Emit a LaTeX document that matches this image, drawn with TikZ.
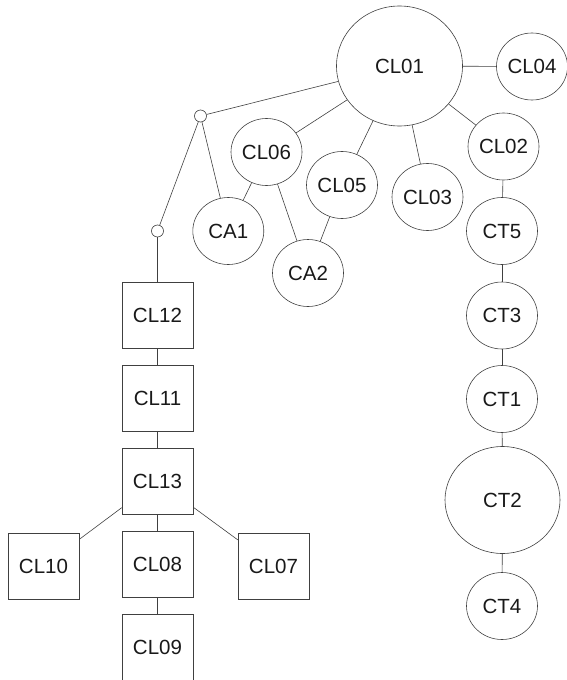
\documentclass[tikz,border=0pt]{standalone}
\usepackage{fontspec}
\setmainfont{Liberation Sans}
\usetikzlibrary{shapes.geometric}
\begin{document}
\begin{tikzpicture}[x=1pt,y=-1pt,
  every node/.style={font=\fontsize{20.5}{24}\selectfont, text=black!90},
  circ/.style={draw=black!75, line width=0.6pt, ellipse, inner sep=0pt, minimum width=71pt, minimum height=67pt},
  bigcirc/.style={circ, minimum width=126pt, minimum height=120pt},
  midcirc/.style={circ, minimum width=115pt, minimum height=107pt},
  dot/.style={draw=black!75, line width=0.6pt, circle, inner sep=0pt, minimum size=12pt},
  box/.style={draw=black!75, line width=0.6pt, rectangle, inner sep=0pt, minimum width=71pt, minimum height=66pt},
  edge/.style={draw=black!75, line width=0.6pt}]
\useasboundingbox (0,0) rectangle (566,680);
% circles
\node[bigcirc] (CL01) at (399.5,66) {CL01};
\node[circ] (CL04) at (532,66.5) {CL04};
\node[circ] (CL02) at (503.5,146.5) {CL02};
\node[circ] (CL06) at (266.5,152) {CL06};
\node[circ] (CL05) at (342,185) {CL05};
\node[circ] (CL03) at (427.5,197) {CL03};
\node[circ] (CA1) at (228.3,231) {CA1};
\node[circ] (CA2) at (308,273) {CA2};
\node[circ] (CT5) at (502,231) {CT5};
\node[circ] (CT3) at (502,315.5) {CT3};
\node[circ] (CT1) at (502,399) {CT1};
\node[midcirc] (CT2) at (502.5,500) {CT2};
\node[circ] (CT4) at (502,606) {CT4};
% small junction circles
\node[dot] (J1) at (200.5,116) {};
\node[dot] (J2) at (157.5,231) {};
% boxes
\node[box] (CL12) at (157.5,315) {CL12};
\node[box] (CL11) at (157.5,398) {CL11};
\node[box] (CL13) at (157.5,481) {CL13};
\node[box] (CL08) at (157.5,564) {CL08};
\node[box] (CL09) at (157.5,647) {CL09};
\node[box] (CL10) at (43.5,566) {CL10};
\node[box] (CL07) at (273.5,566) {CL07};
% connectors
\path[edge] (CL01) -- (CL04);
\path[edge] (CL01) -- (CL02);
\path[edge] (CL01) -- (CL03);
\path[edge] (CL01) -- (CL05);
\path[edge] (CL01) -- (CL06);
\path[edge] (CL01) -- (J1);
\path[edge] (J1) -- (CA1);
\path[edge] (J1) -- (J2);
\path[edge] (J2) -- (CL12);
\path[edge] (CL06) -- (CA1);
\path[edge] (CL06) -- (CA2);
\path[edge] (CL05) -- (CA2);
\path[edge] (CL02) -- (CT5);
\path[edge] (CT5) -- (CT3);
\path[edge] (CT3) -- (CT1);
\path[edge] (CT1) -- (CT2);
\path[edge] (CT2) -- (CT4);
\path[edge] (CL12) -- (CL11);
\path[edge] (CL11) -- (CL13);
\path[edge] (CL13) -- (CL10);
\path[edge] (CL13) -- (CL08);
\path[edge] (CL13) -- (CL07);
\path[edge] (CL08) -- (CL09);
\end{tikzpicture}
\end{document}
